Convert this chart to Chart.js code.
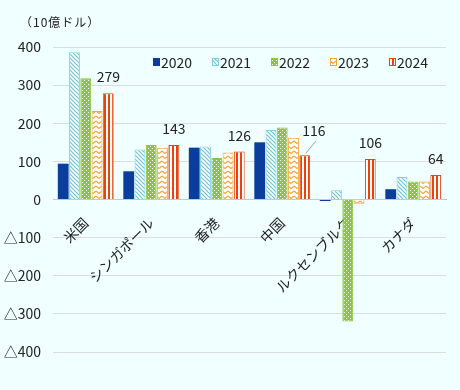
<!DOCTYPE html>
<html><head><meta charset="utf-8">
<script src="https://cdn.jsdelivr.net/npm/chart.js@4.4.1/dist/chart.umd.min.js"></script>
<style>html,body{margin:0;padding:0;background:#f0ffff;}#wrap{width:460px;height:390px;position:relative;}</style>
</head><body><div id="wrap"><canvas id="c" width="460" height="390"></canvas></div>
<script>
const categories = ['米国','シンガポール','香港','中国','ルクセンブルク','カナダ'];
const years = ['2020','2021','2022','2023','2024'];
const v2020 = [94, 74, 136, 150, -4, 27];
const v2021 = [386, 131, 139, 182, 24, 59];
const v2022 = [318, 143, 109, 189, -320, 47];
const v2023 = [232, 136, 123, 162, -11, 47];
const v2024 = [279, 143, 126, 116, 106, 64];
const yTicks = [400, 300, 200, 100, 0, -100, -200, -300, -400];
const unitLabel = '（10億ドル）';

const NUMFONT = '"Liberation Sans Narrow", "Noto Sans CJK JP"';
function mk(w, h, draw){ const c=document.createElement('canvas'); c.width=w; c.height=h; const x=c.getContext('2d'); draw(x); return x.createPattern(c,'repeat'); }
const p2021 = mk(4,4,x=>{x.fillStyle='#ffffff';x.fillRect(0,0,4,4);x.strokeStyle='#6cc3d8';x.lineWidth=1.2;x.beginPath();x.moveTo(-1,-1);x.lineTo(5,5);x.moveTo(3,-1);x.lineTo(5,1);x.moveTo(-1,3);x.lineTo(1,5);x.stroke();});
const p2022 = mk(4,4,x=>{x.fillStyle='#8cc63f';x.fillRect(0,0,4,4);x.fillStyle='#ffffff';x.fillRect(0,0,1,1);x.fillRect(2,2,1,1);});
const p2023 = mk(6,5,x=>{x.fillStyle='#ffffff';x.fillRect(0,0,6,5);x.strokeStyle='#f7a535';x.lineWidth=1.1;x.beginPath();x.moveTo(0,1);x.lineTo(3,3.5);x.lineTo(6,1);x.stroke();});
const p2024 = mk(4,4,x=>{x.fillStyle='#ffffff';x.fillRect(0,0,4,4);x.fillStyle='#e8420e';x.fillRect(0,0,2,4);});

const fills = ['#0a3d9c', p2021, p2022, p2023, p2024];
const borders = ['#0a3d9c', '#7fd0e2', '#8cc63f', '#f7a535', '#e8420e'];
const series = [v2020, v2021, v2022, v2023, v2024];

const bgPlugin = { id:'bg', beforeDraw(ch){ const c=ch.ctx; c.save(); c.fillStyle='#f0ffff'; c.fillRect(0,0,ch.width,ch.height); c.restore(); } };
const extra = { id:'extra', afterDraw(ch){
  const c=ch.ctx; c.save();
  c.fillStyle='#222'; c.font='12px "Noto Sans CJK JP"'; c.textAlign='left'; c.textBaseline='middle';
  c.letterSpacing='1px';
  c.fillText(unitLabel, 20, 22);
  c.letterSpacing='0px';
  c.font='14px ' + NUMFONT;
  let lx = 153;
  years.forEach((y,i)=>{
    c.fillStyle = fills[i]; c.fillRect(lx, 58, 7, 8);
    c.strokeStyle = borders[i]; c.lineWidth=1; c.strokeRect(lx+0.5, 58.5, 6, 7);
    c.fillStyle='#222'; c.textAlign='left'; c.fillText(y, lx+8, 62.5);
    lx += 59;
  });
  const meta = ch.getDatasetMeta(4);
  c.textAlign='center'; c.fillStyle='#222';
  meta.data.forEach((b,i)=>{
    let dx=0, dy=-16;
    if(i===3){ dx=9; dy=-25;
      c.strokeStyle='#a0a0a0'; c.lineWidth=1; c.beginPath(); c.moveTo(b.x+1, b.y-2); c.lineTo(b.x+11, b.y-14); c.stroke();
    }
    c.fillText(String(v2024[i]), b.x+dx, b.y+dy);
  });
  c.restore();
}};

new Chart(document.getElementById('c'), {
  type:'bar',
  data:{ labels:categories, datasets: series.map((d,i)=>({label:years[i], data:d, backgroundColor:fills[i], borderColor:borders[i], borderWidth:i===0?0:1, barPercentage:0.96, categoryPercentage:0.86})) },
  options:{
    responsive:false, animation:false,
    layout:{padding:{top:47, bottom:38, left:0, right:14}},
    plugins:{legend:{display:false}, tooltip:{enabled:false}},
    scales:{
      x:{ position:{y:0}, z:1, grid:{display:false}, border:{display:true, color:'#c8c8c8', width:1},
          ticks:{ color:'#222', font:{family:'"Noto Sans CJK JP"', size:14}, minRotation:45, maxRotation:45, padding:7 } },
      y:{ min:-400, max:400, afterFit(s){ s.width=53; },
          afterBuildTicks(s){ s.ticks = yTicks.map(v=>({value:v})); },
          grid:{color:'#dcdcdc', drawTicks:false}, border:{display:false},
          ticks:{ color:'#222', padding:12, font:{family:NUMFONT, size:14},
                  callback:v=> v<0 ? '△'+Math.abs(v) : String(v) } }
    }
  },
  plugins:[bgPlugin, extra]
});
</script></body></html>
